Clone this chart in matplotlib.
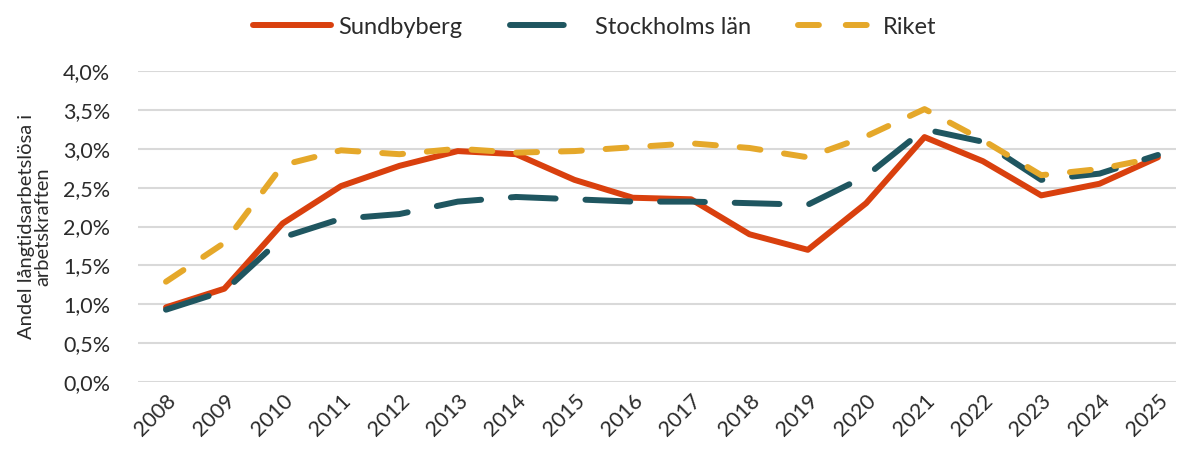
import matplotlib
matplotlib.use("Agg")
import matplotlib.pyplot as plt
from matplotlib.lines import Line2D
from matplotlib.ticker import FuncFormatter

# Data
years = [str(y) for y in range(2008, 2026)]
sundbyberg = [0.96, 1.20, 2.04, 2.52, 2.78, 2.97, 2.93, 2.60, 2.37, 2.35,
              1.90, 1.70, 2.30, 3.15, 2.84, 2.40, 2.55, 2.89]
stockholms_lan = [0.93, 1.17, 1.86, 2.10, 2.16, 2.32, 2.38, 2.35, 2.32, 2.32,
                  2.30, 2.28, 2.65, 3.25, 3.09, 2.60, 2.68, 2.92]
riket = [1.29, 1.79, 2.79, 2.98, 2.93, 3.00, 2.95, 2.97, 3.02, 3.07,
         3.01, 2.89, 3.16, 3.51, 3.11, 2.66, 2.74, 2.89]

plt.rcParams['font.family'] = ['Lato', 'DejaVu Sans']

txt = '#2b2b2b'
c_sund, c_sthlm, c_riket = '#D9400E', '#1F5660', '#E5A82A'

fig = plt.figure(figsize=(11.78, 4.5), dpi=100)
ax = fig.add_axes([138 / 1178, 68 / 450, 1038 / 1178, 311 / 450])

x = range(len(years))
ax.plot(x, sundbyberg, color=c_sund, lw=4.3, solid_capstyle='round', zorder=3)
ax.plot(x, stockholms_lan, color=c_sthlm, lw=4.3, dashes=(7.5, 5),
        dash_capstyle='round', zorder=3)
ax.plot(x, riket, color=c_riket, lw=4.3, dashes=(3.5, 4),
        dash_capstyle='round', zorder=3)

ax.set_ylim(0, 4.0)
ax.set_yticks([i * 0.5 for i in range(9)])
ax.yaxis.set_major_formatter(FuncFormatter(lambda v, p: f"{v:.1f}".replace('.', ',') + '%'))
ax.set_xlim(-0.48, 17.31)
ax.set_xticks(list(x))
ax.set_xticklabels(years, rotation=45, ha='right', rotation_mode='anchor')

ax.grid(axis='y', color='#D9D9D9', lw=1.5)
ax.set_axisbelow(True)
for s in ax.spines.values():
    s.set_visible(False)
ax.tick_params(length=0, labelsize=15.5, labelcolor=txt)
ax.tick_params(axis='y', pad=20)
ax.tick_params(axis='x', pad=6)

ax.set_ylabel("Andel långtidsarbetslösa i\narbetskraften", fontsize=14.5,
              color=txt, labelpad=8, linespacing=1.0)

# legend handles drawn to look like the reference's
handles = [
    Line2D([], [], color=c_sund, lw=4.3, solid_capstyle='round'),
    Line2D([], [], color=c_sthlm, lw=4.3, dashes=(9, 20), dash_capstyle='round'),
    Line2D([], [], color=c_riket, lw=4.3, dashes=(3.5, 4.5), dash_capstyle='round'),
]
fig.legend(handles, ['Sundbyberg', 'Stockholms län', 'Riket'],
           loc='upper center', bbox_to_anchor=(0.505, 1.01), ncol=3, frameon=False,
           fontsize=17, handlelength=3.3, columnspacing=2.0, handletextpad=0.3,
           labelcolor=txt)

fig.savefig("out.png", dpi=100)
